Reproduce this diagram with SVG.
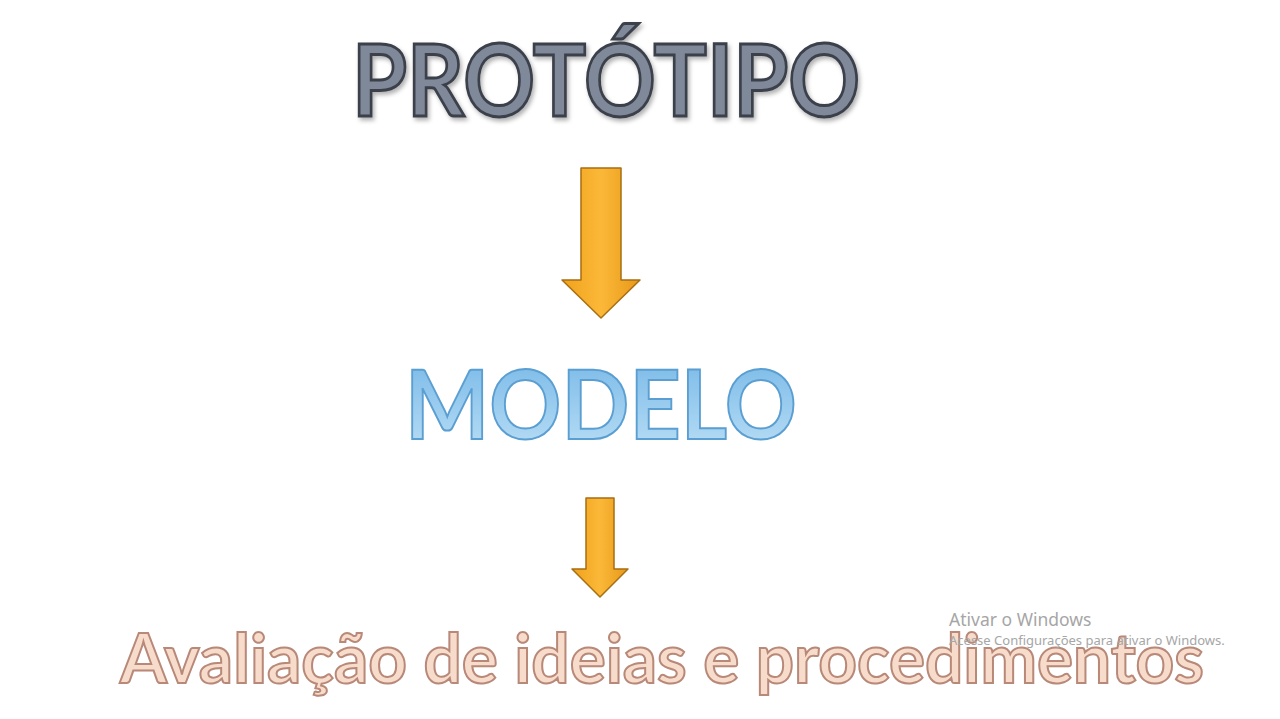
<svg xmlns="http://www.w3.org/2000/svg" width="1280" height="719" viewBox="0 0 1280 719">
<style>
.big{font-family:Lato,"Open Sans","Liberation Sans",sans-serif;font-weight:bold;}
.arrow{fill:url(#og);stroke:#a86e10;stroke-width:1.5;stroke-linejoin:round;}
.wm{font-family:"Noto Sans","Liberation Sans",sans-serif;fill:#a6a6a6;}
</style>
<defs>
<linearGradient id="og" x1="0" y1="0" x2="1" y2="0">
<stop offset="0" stop-color="#f0a21c"/>
<stop offset="0.5" stop-color="#fbb838"/>
<stop offset="1" stop-color="#e8981a"/>
</linearGradient>
<linearGradient id="bg" x1="0" y1="0" x2="0" y2="1">
<stop offset="0" stop-color="#72b5e6"/>
<stop offset="1" stop-color="#bde0f6"/>
</linearGradient>
<filter id="sh" x="-5%" y="-10%" width="110%" height="130%">
<feDropShadow dx="2" dy="3" stdDeviation="2" flood-color="#000" flood-opacity="0.3"/>
</filter>
</defs>
<rect width="1280" height="719" fill="#ffffff"/>
<g id="prototipo">
<text class="big" x="352" y="116" font-size="100" textLength="508" lengthAdjust="spacingAndGlyphs" fill="#7f8999" stroke="#3b414b" stroke-width="3" filter="url(#sh)">PROTÓTIPO</text>
</g>
<g id="modelo">
<text class="big" x="405" y="439" font-size="96" textLength="392" lengthAdjust="spacingAndGlyphs" fill="url(#bg)" stroke="#5b9fd2" stroke-width="2">MODELO</text>
</g>
<g id="avaliacao">
<text class="big" x="120" y="683" font-size="68" textLength="1084" lengthAdjust="spacingAndGlyphs" fill="#f7dccb" stroke="#b88878" stroke-width="2">Avaliação de ideias e procedimentos</text>
</g>
<g id="connectors">
<path class="arrow" d="M581,168 H621 V280 H640 L601,318 L562,280 H581 Z"/>
<path class="arrow" d="M586,498 H614 V569 H628 L600,597 L572,569 H586 Z"/>
</g>
<g id="watermark">
<text class="wm" x="949" y="626" font-size="17.5">Ativar o Windows</text>
<text class="wm" x="949" y="645" font-size="13">Acesse Configurações para ativar o Windows.</text>
</g>
</svg>
